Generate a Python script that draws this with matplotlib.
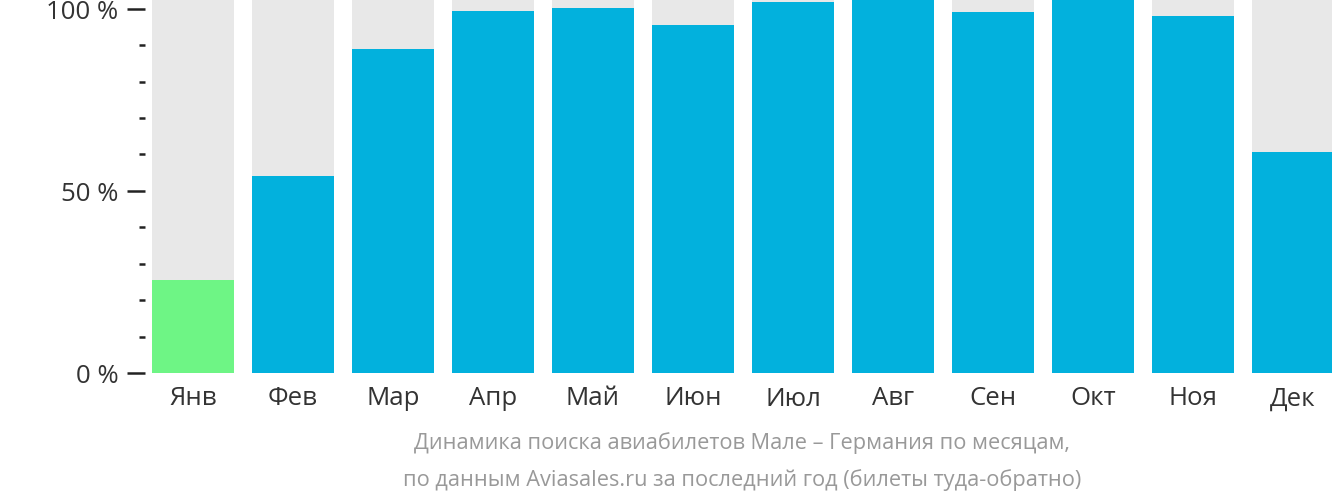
import matplotlib
matplotlib.use("Agg")
import matplotlib.pyplot as plt

months = ["Янв","Фев","Мар","Апр","Май","Июн","Июл","Авг","Сен","Окт","Ноя","Дек"]
values = [25.5, 54.1, 89.0, 99.5, 100.3, 95.6, 101.9, 102.5, 99.2, 103.0, 98.1, 60.7]
colors = ["#6ef585"] + ["#02b1dd"]*11

plt.rcParams["font.family"] = "Open Sans"
fig = plt.figure(figsize=(13.32, 5.02), dpi=100)
ax = fig.add_axes([152/1332, 128/502, 1180/1332, 374/502])
ymax = 102.7
x = range(len(months))
ax.bar(x, [ymax]*len(months), width=0.82, color="#e8e8e8")
ax.bar(x, values, width=0.82, color=colors)
ax.set_xlim(-0.41, 11.39)
ax.set_ylim(0, ymax)
for s in ax.spines.values():
    s.set_visible(False)
ax.spines["left"].set_position(("outward", 5))
ax.set_xticks(list(x))
ax.set_xticklabels(months, fontsize=18.5, color="#333333")
ax.tick_params(axis="x", length=0, pad=9)
ax.set_yticks([0, 50, 100])
ax.set_yticklabels(["0 %", "50 %", "100 %"], fontsize=18.5, color="#333333")
ax.set_yticks([10,20,30,40,60,70,80,90], minor=True)
ax.tick_params(axis="y", which="major", length=13, width=1.8, pad=6, color="#222222")
ax.tick_params(axis="y", which="minor", length=4, width=1.8, pad=6, color="#222222")
fig.text(742/1332, 1-443/502, "Динамика поиска авиабилетов Мале – Германия по месяцам,",
         ha="center", va="center", fontsize=15.7, color="#999999")
fig.text(742/1332, 1-480/502, "по данным Aviasales.ru за последний год (билеты туда-обратно)",
         ha="center", va="center", fontsize=15.7, color="#999999")
fig.savefig("out.png", dpi=100)
